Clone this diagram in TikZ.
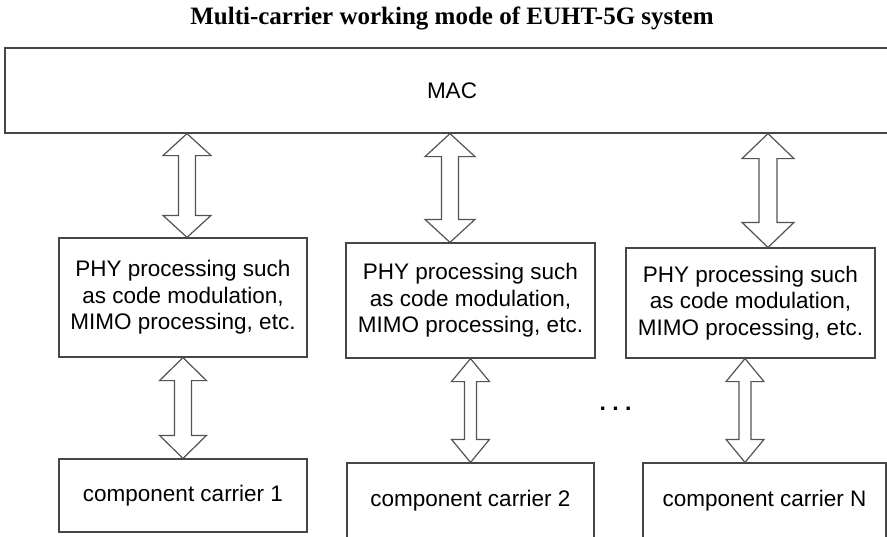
\documentclass[tikz,border=0pt]{standalone}
\usepackage{fontspec}
\setmainfont{Liberation Serif}
\newfontfamily\arialfont{Liberation Sans}
\usetikzlibrary{calc}

% double-headed block arrow from upper node to lower node
% #1 upper node, #2 lower node, #3 x offset, #4 head half width, #5 shaft half width, #6 head length
\newcommand\bigarrow[6]{%
  \draw[blockarrow] let \p1=(#1.south), \p2=(#2.north), \p3=($(#2.north)+(#3,0)$) in
    (\x3,\y1) -- (\x3+#4pt,\y1-#6pt) -- (\x3+#5pt,\y1-#6pt) -- (\x3+#5pt,\y2+#6pt)
    -- (\x3+#4pt,\y2+#6pt) -- (\x3,\y2) -- (\x3-#4pt,\y2+#6pt) -- (\x3-#5pt,\y2+#6pt)
    -- (\x3-#5pt,\y1-#6pt) -- (\x3-#4pt,\y1-#6pt) -- cycle;}

\tikzset{
  box/.style={draw=gray!55!black, line width=1.2pt, rectangle, inner sep=0pt,
    font=\arialfont\fontsize{22.5}{26.5}\selectfont, align=center},
  blockarrow/.style={draw=gray!65!black, line width=1.2pt, fill=white, line join=miter}
}

\begin{document}
\begin{tikzpicture}[x=1pt,y=-1pt]
    \useasboundingbox (0,0) rectangle (887,536);

    % Title
    \node[font=\bfseries\fontsize{25}{30}\selectfont] (title) at (452,18) {Multi-carrier working mode of EUHT-5G system};

    % MAC layer
    \node[box, minimum width=894, minimum height=85] (mac) at (452,90.5) {MAC};

    % PHY processing boxes
    \node[box, minimum width=248, minimum height=119] (phy1) at (183,297.5)
        {PHY processing such\\as code modulation,\\MIMO processing, etc.};
    \node[box, minimum width=249, minimum height=115] (phy2) at (470.5,300.5)
        {PHY processing such\\as code modulation,\\MIMO processing, etc.};
    \node[box, minimum width=249, minimum height=110] (phy3) at (750.5,303)
        {PHY processing such\\as code modulation,\\MIMO processing, etc.};

    % Component carriers
    \node[box, minimum width=248, minimum height=73] (cc1) at (183,495.5) {component carrier 1};
    \node[box, minimum width=247, minimum height=76] (cc2) at (470.5,501) {component carrier 2};
    \node[box, minimum width=243, minimum height=76] (cc3) at (764.5,501) {component carrier N};

    % Dots between carriers
    \node[font=\arialfont\bfseries\fontsize{23}{26.5}\selectfont, anchor=base, inner sep=0pt] (dots) at (615.5,410) {.\ .\ .};

    % Arrows MAC <-> PHY
    \bigarrow{mac}{phy1}{4}{24}{8.5}{22}
    \bigarrow{mac}{phy2}{-20.5}{25}{8.5}{23}
    \bigarrow{mac}{phy3}{17.5}{26}{9}{25}

    % Arrows PHY <-> carrier
    \bigarrow{phy1}{cc1}{0}{23.5}{8.5}{23}
    \bigarrow{phy2}{cc2}{0}{19}{6}{23}
    \bigarrow{phy3}{cc3}{-19.5}{19}{6}{23}
\end{tikzpicture}
\end{document}
